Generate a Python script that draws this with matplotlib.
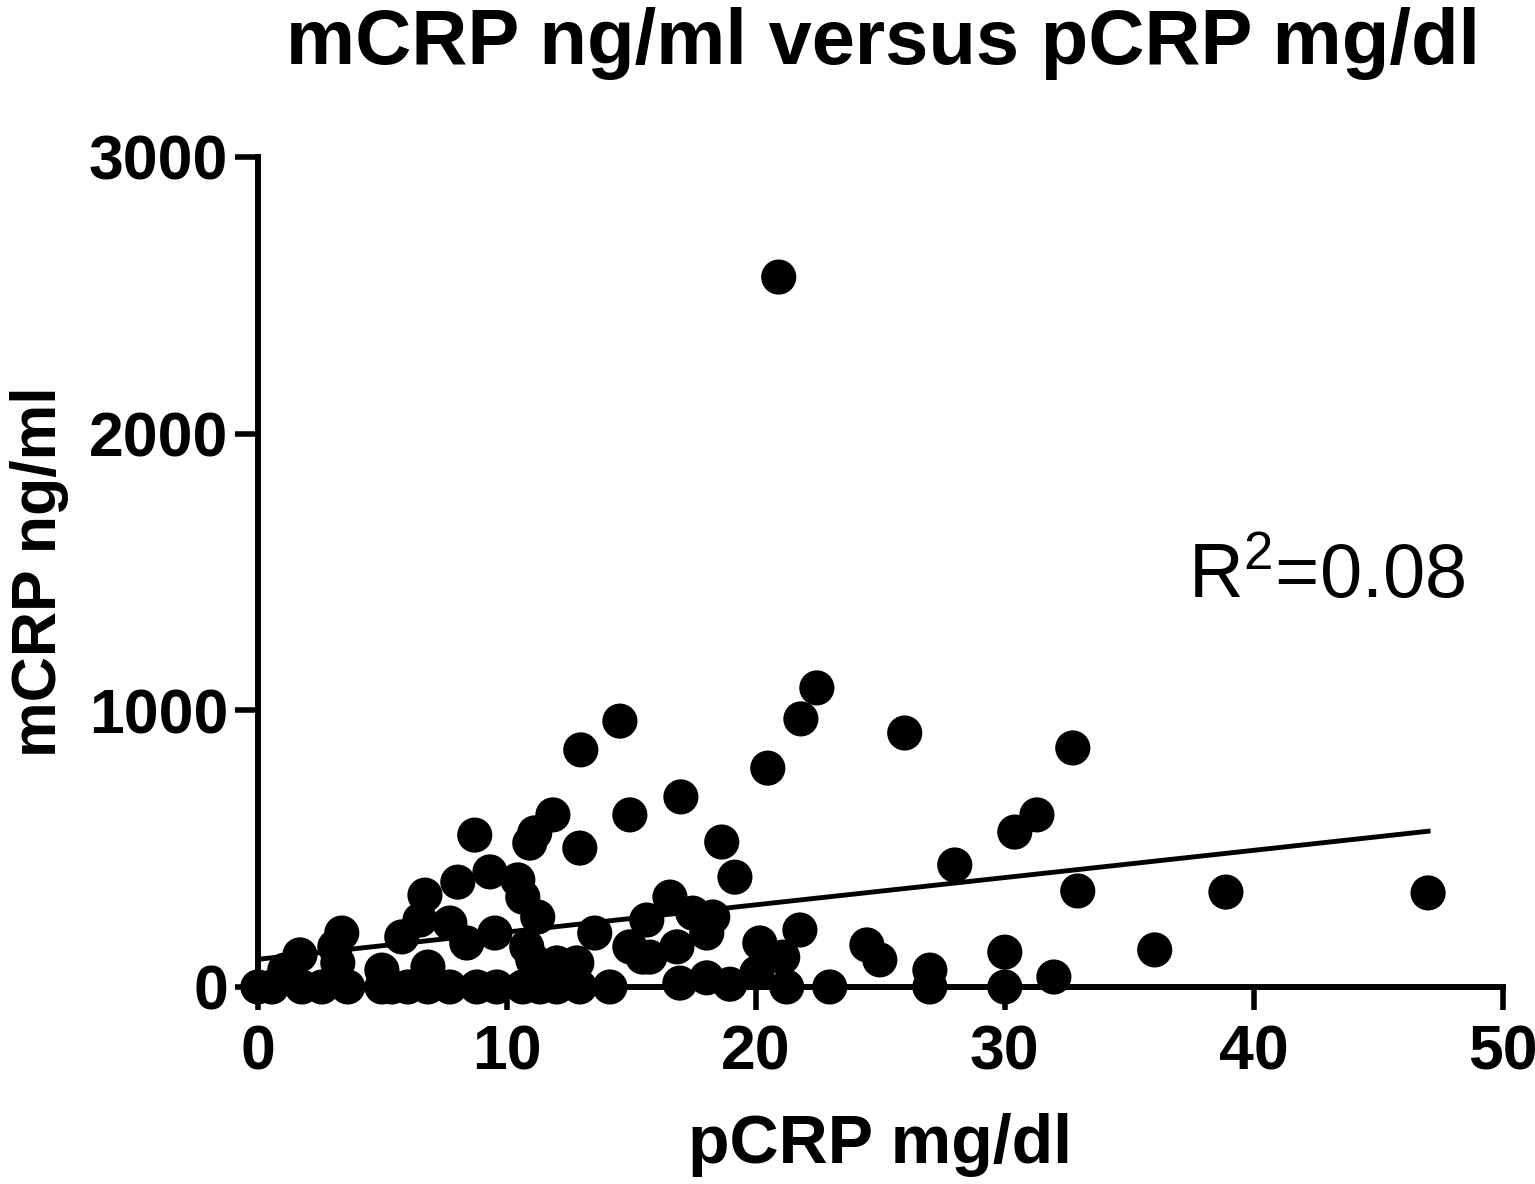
import matplotlib
matplotlib.use("Agg")
import matplotlib.pyplot as plt
import numpy as np

plt.rcParams['font.family'] = ['Liberation Sans', 'DejaVu Sans']
plt.rcParams['mathtext.fontset'] = 'custom'
plt.rcParams['mathtext.rm'] = 'Liberation Sans'
plt.rcParams['mathtext.it'] = 'Liberation Sans'
plt.rcParams['mathtext.bf'] = 'Liberation Sans:bold'

pcrp = [20.92, 22.45, 14.54, 12.97, 21.81, 25.98, 32.73, 20.48, 16.99, 14.94,
        11.85, 11.12, 10.92, 12.93, 8.71, 18.63, 19.16, 30.40, 31.29, 27.99,
        32.93, 38.88, 47.0, 36.02, 30.0, 31.97, 30.0, 26.99, 26.99, 24.46,
        24.98, 22.97, 21.77, 21.24, 21.08, 20.16, 20.04, 18.96, 18.03, 16.95,
        18.27, 18.03, 17.47, 16.55, 15.62, 16.83, 15.74, 14.94, 15.46, 13.53,
        14.14, 12.93, 12.81, 12.01, 12.01, 11.33, 10.64, 11.04, 10.80, 11.24,
        10.64, 10.44, 9.32, 8.03, 9.52, 8.39, 7.71, 9.60, 8.80, 7.71,
        6.71, 6.51, 5.78, 6.83, 4.98, 6.02, 6.83, 5.38, 4.98, 3.37,
        3.09, 3.21, 3.61, 2.57, 1.77, 1.69, 0.56, 0.0, 1.08]
mcrp = [2566, 1081, 961, 857, 969, 918, 864, 791, 687, 622,
        622, 557, 520, 502, 549, 524, 397, 560, 622, 441,
        347, 343, 340, 134, 126, 36, 0, 61, 0, 152,
        98, 0, 206, 0, 108, 159, 51, 10, 33, 14,
        253, 195, 267, 325, 242, 145, 108, 145, 108, 195,
        0, 0, 87, 87, 0, 0, 0, 98, 145, 253,
        325, 387, 416, 379, 195, 159, 231, 0, 0, 0,
        332, 242, 181, 72, 61, 0, 0, 0, 0, 195,
        145, 87, 0, 0, 0, 116, 0, 0, 61]

fit_intercept = 100.0
fit_slope = 9.85
fit_x = [0, 47]

x_ticks = [0, 10, 20, 30, 40, 50]
y_ticks = [0, 1000, 2000, 3000]

fig = plt.figure(figsize=(15.35, 11.84), dpi=100)
ax = fig.add_axes([0.168, 0.1664, 0.811, 0.7010])

ax.scatter(pcrp, mcrp, s=640, color='black', edgecolors='none', clip_on=False, zorder=3)
fx = np.array(fit_x, dtype=float)
ax.plot(fx, fit_intercept + fit_slope * fx, color='black', lw=3.5, zorder=2)

ax.set_xlim(0, 50)
ax.set_ylim(0, 3000)
ax.set_xticks(x_ticks)
ax.set_yticks(y_ticks)
for s in ['top', 'right']:
    ax.spines[s].set_visible(False)
for s in ['left', 'bottom']:
    ax.spines[s].set_linewidth(4.3)
ax.tick_params(axis='both', length=16.5, width=4.0, labelsize=45)
ax.tick_params(axis='x', pad=10)
ax.tick_params(axis='y', pad=5)
for lab in ax.get_xticklabels() + ax.get_yticklabels():
    lab.set_fontweight('bold')

ax.set_xlabel('pCRP mg/dl', fontsize=49, fontweight='bold', labelpad=22)
ax.set_ylabel('mCRP ng/ml', fontsize=45, fontweight='bold', labelpad=14)
fig.suptitle('mCRP ng/ml versus pCRP mg/dl', fontsize=56, fontweight='bold', x=0.575, y=0.994)
ax.text(37.35, 1409, r'R$^{2}$=0.08', fontsize=54.5, ha='left', va='baseline')

fig.savefig('out.png', dpi=100)
